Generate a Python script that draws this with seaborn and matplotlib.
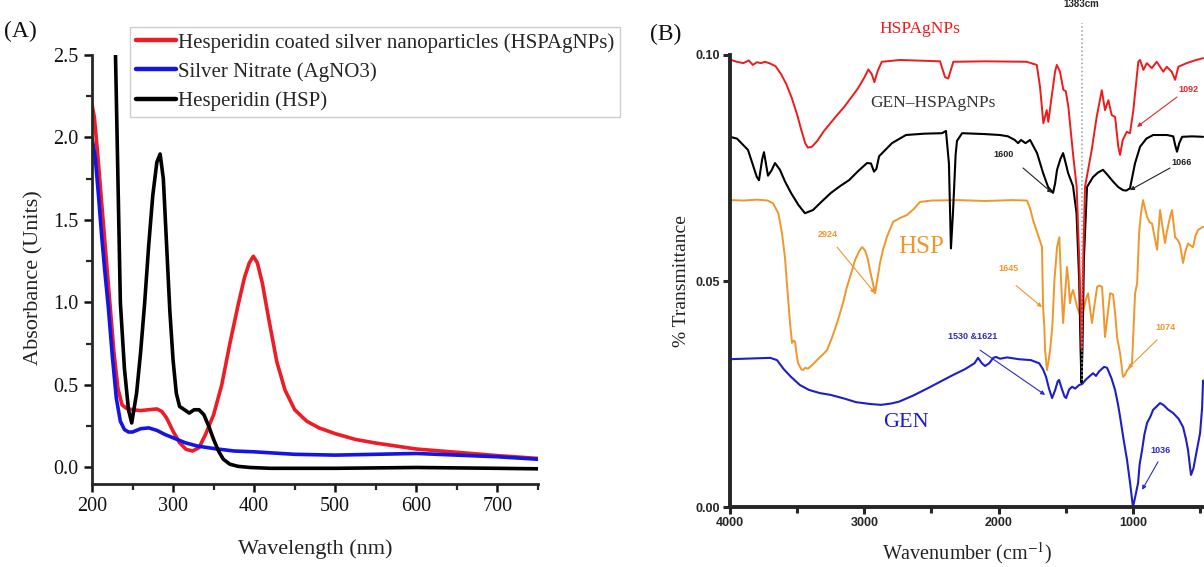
import matplotlib
matplotlib.use("Agg")
import matplotlib.pyplot as plt
from matplotlib.ticker import FixedLocator, FormatStrFormatter
import seaborn as sns
import pandas as pd

# ---------------- (A) UV-Vis absorbance ----------------
uv_labels = [
    "Hesperidin coated silver nanoparticles (HSPAgNPs)",
    "Silver Nitrate (AgNO3)",
    "Hesperidin (HSP)",
]

wl_hspagnp = [200, 203, 207, 212, 217, 222, 227, 232, 237, 242, 250, 260, 270, 280, 286,
              292, 300, 308, 316, 324, 332, 340, 350, 360, 370, 380, 388, 394, 399, 404,
              410, 418, 428, 438, 450, 465, 480, 500, 525, 550, 600, 650, 700, 750]
abs_hspagnp = [2.20, 2.12, 1.90, 1.60, 1.30, 1.00, 0.70, 0.48, 0.38, 0.36, 0.35, 0.345, 0.35, 0.355, 0.34,
               0.30, 0.22, 0.15, 0.11, 0.10, 0.12, 0.20, 0.32, 0.50, 0.75, 0.98, 1.15, 1.24, 1.28, 1.24,
               1.12, 0.90, 0.64, 0.47, 0.35, 0.28, 0.24, 0.205, 0.17, 0.148, 0.112, 0.092, 0.072, 0.055]

wl_agno3 = [200, 204, 208, 212, 216, 220, 225, 230, 235, 240, 245, 250, 260, 270, 280,
            290, 300, 315, 330, 350, 375, 400, 450, 500, 550, 600, 650, 700, 750]
abs_agno3 = [2.00, 1.88, 1.65, 1.40, 1.18, 0.98, 0.68, 0.42, 0.28, 0.23, 0.215, 0.215, 0.235, 0.24, 0.225,
             0.20, 0.18, 0.15, 0.13, 0.115, 0.10, 0.095, 0.08, 0.075, 0.08, 0.085, 0.075, 0.065, 0.05]

wl_hsp = [229, 232, 235, 240, 245, 249, 255, 260, 265, 270, 275, 280, 284, 288, 292,
          296, 300, 304, 308, 314, 320, 326, 332, 338, 344, 350, 356, 362, 370, 380,
          395, 420, 450, 500, 600, 700, 750]
abs_hsp = [2.50, 1.75, 1.00, 0.60, 0.35, 0.27, 0.45, 0.70, 1.00, 1.35, 1.65, 1.85, 1.90, 1.75, 1.35,
           0.95, 0.65, 0.45, 0.37, 0.35, 0.33, 0.35, 0.35, 0.32, 0.25, 0.17, 0.10, 0.05, 0.02, 0.007,
           0.0, -0.005, -0.005, -0.005, 0.0, -0.005, -0.008]

# ---------------- (B) FTIR transmittance ----------------
wn_hspagnp = [4000, 3950, 3900, 3860, 3830, 3800, 3770, 3740, 3700, 3660, 3620, 3580, 3540, 3500,
              3470, 3440, 3420, 3390, 3350, 3300, 3250, 3200, 3150, 3100, 3050, 3000, 2970, 2945,
              2925, 2900, 2870, 2734, 2436, 2399, 2375, 2337, 2100, 1791, 1716, 1692, 1667, 1642,
              1630, 1605, 1580, 1567, 1543, 1518, 1500, 1481, 1444, 1419, 1400, 1383, 1370, 1357,
              1307, 1270, 1232, 1208, 1183, 1158, 1133, 1109, 1096, 1076, 1046, 1022, 997, 960,
              947, 922, 897, 860, 823, 774, 748, 711, 686, 662, 600, 540, 478]
tr_hspagnp = [0.0990, 0.0985, 0.0982, 0.0988, 0.0978, 0.0984, 0.0982, 0.0985, 0.0981, 0.0975, 0.0958,
              0.0935, 0.0905, 0.0868, 0.0835, 0.0805, 0.0795, 0.0797, 0.0810, 0.0832, 0.0850, 0.0868,
              0.0885, 0.0905, 0.0925, 0.0950, 0.0968, 0.0958, 0.0940, 0.0965, 0.0985, 0.0989, 0.0986,
              0.0951, 0.0948, 0.0985, 0.0986, 0.0985, 0.0978, 0.0930, 0.0849, 0.0878, 0.0852, 0.0908,
              0.0963, 0.0978, 0.0963, 0.0923, 0.0920, 0.0886, 0.0775, 0.0708, 0.0550, 0.0350, 0.0550,
              0.0708, 0.0790, 0.0863, 0.0922, 0.0878, 0.0900, 0.0867, 0.0863, 0.0797, 0.0779, 0.0812,
              0.0830, 0.0827, 0.0878, 0.0985, 0.0989, 0.0967, 0.0982, 0.0971, 0.0985, 0.0963, 0.0974,
              0.0963, 0.0945, 0.0974, 0.0982, 0.0988, 0.0993]

wn_gen_hsp = [4000, 3948, 3866, 3800, 3784, 3760, 3747, 3717, 3690, 3665, 3628, 3590, 3546, 3490,
              3442, 3382, 3320, 3248, 3180, 3114, 3050, 2980, 2950, 2928, 2910, 2890, 2794, 2690,
              2550, 2421, 2392, 2370, 2355, 2340, 2320, 2310, 2272, 2100, 1990, 1930, 1880, 1855,
              1833, 1800, 1766, 1714, 1669, 1632, 1595, 1580, 1565, 1540, 1520, 1500, 1483, 1446,
              1420, 1400, 1390, 1383, 1376, 1365, 1342, 1297, 1260, 1223, 1190, 1148, 1110, 1074,
              1050, 1022, 985, 947, 900, 850, 746, 700, 685, 672, 655, 634, 560, 478]
tr_gen_hsp = [0.0819, 0.0815, 0.0790, 0.0730, 0.0723, 0.0770, 0.0785, 0.0733, 0.0745, 0.0761, 0.0746,
              0.0720, 0.0695, 0.0668, 0.0650, 0.0657, 0.0675, 0.0695, 0.0710, 0.0723, 0.0742, 0.0761,
              0.0760, 0.0742, 0.0748, 0.0776, 0.0805, 0.0823, 0.0826, 0.0827, 0.0832, 0.0760, 0.0572,
              0.0650, 0.0780, 0.0810, 0.0827, 0.0825, 0.0823, 0.0820, 0.0812, 0.0805, 0.0812, 0.0805,
              0.0812, 0.0783, 0.0739, 0.0708, 0.0695, 0.0715, 0.0746, 0.0770, 0.0783, 0.0760, 0.0739,
              0.0710, 0.0650, 0.0500, 0.0350, 0.0275, 0.0350, 0.0550, 0.0708, 0.0730, 0.0740, 0.0746,
              0.0735, 0.0720, 0.0708, 0.0701, 0.0700, 0.0705, 0.0760, 0.0797, 0.0815, 0.0823, 0.0823,
              0.0820, 0.0800, 0.0786, 0.0805, 0.0819, 0.0820, 0.0819]

wn_hsp = [4000, 3900, 3800, 3720, 3680, 3640, 3613, 3590, 3576, 3553, 3538, 3527, 3516, 3505,
          3494, 3470, 3456, 3440, 3419, 3385, 3352, 3300, 3278, 3240, 3203, 3160, 3129, 3100,
          3069, 3040, 3017, 2995, 2975, 2958, 2940, 2920, 2900, 2883, 2860, 2831, 2786, 2730,
          2682, 2630, 2585, 2500, 2300, 2100, 1900, 1789, 1765, 1744, 1710, 1677, 1669, 1660,
          1654, 1640, 1630, 1617, 1600, 1585, 1565, 1548, 1535, 1520, 1505, 1491, 1480, 1469,
          1458, 1446, 1430, 1416, 1400, 1383, 1365, 1350, 1334, 1320, 1305, 1285, 1267, 1250,
          1230, 1218, 1208, 1190, 1170, 1148, 1130, 1118, 1096, 1074, 1060, 1044, 1020, 1007,
          995, 984, 969, 954, 940, 925, 910, 895, 875, 858, 840, 820, 808, 798, 780, 761, 750,
          739, 725, 709, 697, 686, 665, 649, 638, 627, 610, 590, 570, 552, 535, 515, 478]
tr_hsp = [0.0679, 0.0678, 0.0680, 0.0678, 0.0672, 0.0650, 0.0606, 0.0550, 0.0494, 0.0407, 0.0363,
          0.0368, 0.0366, 0.0340, 0.0319, 0.0305, 0.0303, 0.0308, 0.0306, 0.0315, 0.0325, 0.0340,
          0.0347, 0.0375, 0.0407, 0.0450, 0.0487, 0.0515, 0.0546, 0.0565, 0.0575, 0.0568, 0.0550,
          0.0524, 0.0500, 0.0473, 0.0510, 0.0540, 0.0570, 0.0598, 0.0631, 0.0640, 0.0646, 0.0660,
          0.0675, 0.0678, 0.0679, 0.0677, 0.0679, 0.0678, 0.0660, 0.0635, 0.0605, 0.0575, 0.0442,
          0.0400, 0.0347, 0.0303, 0.0320, 0.0347, 0.0400, 0.0500, 0.0575, 0.0597, 0.0500, 0.0407,
          0.0470, 0.0531, 0.0500, 0.0451, 0.0470, 0.0480, 0.0460, 0.0443, 0.0430, 0.0420, 0.0440,
          0.0460, 0.0473, 0.0440, 0.0407, 0.0450, 0.0487, 0.0490, 0.0487, 0.0430, 0.0376, 0.0420,
          0.0473, 0.0470, 0.0420, 0.0376, 0.0340, 0.0288, 0.0292, 0.0302, 0.0310, 0.0318, 0.0400,
          0.0473, 0.0495, 0.0606, 0.0650, 0.0679, 0.0660, 0.0642, 0.0630, 0.0627, 0.0600, 0.0569,
          0.0620, 0.0657, 0.0620, 0.0584, 0.0605, 0.0620, 0.0640, 0.0657, 0.0625, 0.0597, 0.0590,
          0.0580, 0.0560, 0.0540, 0.0565, 0.0583, 0.0578, 0.0575, 0.0600, 0.0613, 0.0620]

wn_gen = [4000, 3900, 3800, 3700, 3650, 3600, 3546, 3480, 3412, 3330, 3250, 3150, 3062, 2960,
          2876, 2800, 2742, 2640, 2526, 2430, 2340, 2250, 2180, 2153, 2125, 2101, 2070, 2040,
          2019, 1990, 1937, 1850, 1760, 1698, 1670, 1647, 1625, 1602, 1580, 1560, 1550, 1530,
          1510, 1498, 1475, 1453, 1430, 1400, 1379, 1350, 1320, 1297, 1275, 1252, 1215, 1193,
          1160, 1133, 1110, 1096, 1070, 1044, 1020, 1000, 985, 962, 950, 932, 915, 895, 870,
          850, 825, 798, 770, 740, 701, 660, 627, 605, 590, 568, 550, 538, 515, 500, 485, 478]
tr_gen = [0.0327, 0.0328, 0.0329, 0.0330, 0.0325, 0.0305, 0.0288, 0.0270, 0.0259, 0.0252, 0.0248,
          0.0240, 0.0232, 0.0228, 0.0226, 0.0229, 0.0233, 0.0246, 0.0263, 0.0278, 0.0292, 0.0305,
          0.0318, 0.0330, 0.0318, 0.0312, 0.0318, 0.0330, 0.0332, 0.0328, 0.0331, 0.0327, 0.0325,
          0.0318, 0.0305, 0.0288, 0.0262, 0.0241, 0.0258, 0.0278, 0.0281, 0.0262, 0.0245, 0.0241,
          0.0260, 0.0266, 0.0262, 0.0270, 0.0272, 0.0282, 0.0290, 0.0296, 0.0290, 0.0300, 0.0310,
          0.0308, 0.0285, 0.0259, 0.0225, 0.0200, 0.0150, 0.0104, 0.0050, 0.0000, 0.0020, 0.0053,
          0.0095, 0.0126, 0.0160, 0.0186, 0.0200, 0.0215, 0.0222, 0.0230, 0.0225, 0.0216, 0.0208,
          0.0195, 0.0177, 0.0150, 0.0126, 0.0071, 0.0085, 0.0104, 0.0140, 0.0164, 0.0220, 0.0280]

# peak annotations: (text, text_x, text_y, arrow_from, arrow_to, colour)
ftir_notes = [
    ("2924", 3270, 0.0603, (3203, 0.0575), (2920, 0.0473), "#f0962a"),
    ("1645", 1923, 0.0527, (1870, 0.0490), (1677, 0.0442), "#f0962a"),
    ("1074", 761, 0.0398, (820, 0.0370), (1037, 0.0307), "#f0962a"),
    ("1600", 1967, 0.0779, (1818, 0.0750), (1602, 0.0695), "#222222"),
    ("1066", 634, 0.0763, (724, 0.0750), (1022, 0.0701), "#222222"),
    ("1092", 590, 0.0923, (672, 0.0907), (970, 0.0841), "#e8262a"),
    ("1530 &1621", 2190, 0.0378, (2138, 0.0347), (1654, 0.0248), "#2b2bc8"),
    ("1036", 798, 0.0126, (813, 0.0100), (932, 0.0038), "#2b2bc8"),
]

RED_A, BLUE_A = "#ee1c24", "#1414e6"
RED_B, BLACK_B, ORANGE_B, BLUE_B = "#ee1b1b", "#000000", "#f0962a", "#1e1ec8"

sns.set_style("ticks")
plt.rcParams["font.family"] = ["Liberation Serif", "DejaVu Serif"]
plt.rcParams["mathtext.fontset"] = "stix"

fig = plt.figure(figsize=(12.04, 5.67), dpi=100)
axA = fig.add_axes([0.0764, 0.1464, 0.3704, 0.7566])
axB = fig.add_axes([0.6063, 0.1058, 0.3937, 0.7972])

# ---- panel A ----
uv_sets = [(wl_hspagnp, abs_hspagnp, RED_A), (wl_agno3, abs_agno3, BLUE_A), (wl_hsp, abs_hsp, "black")]
for (x, y, c), lab in zip(uv_sets, uv_labels):
    df = pd.DataFrame({"Wavelength": x, "Absorbance": y})
    sns.lineplot(data=df, x="Wavelength", y="Absorbance", ax=axA, color=c, lw=2.6,
                 estimator=None, sort=False, label=lab)

axA.set_xlim(200, 750)
axA.set_ylim(-0.1, 2.5)
axA.xaxis.set_major_locator(FixedLocator([200, 300, 400, 500, 600, 700]))
axA.xaxis.set_minor_locator(FixedLocator([250, 350, 450, 550, 650, 750]))
axA.yaxis.set_major_locator(FixedLocator([0.0, 0.5, 1.0, 1.5, 2.0, 2.5]))
axA.yaxis.set_minor_locator(FixedLocator([0.25, 0.75, 1.25, 1.75, 2.25]))
axA.yaxis.set_major_formatter(FormatStrFormatter("%.1f"))
for s in ("top", "right"):
    axA.spines[s].set_visible(False)
for s in ("left", "bottom"):
    axA.spines[s].set_linewidth(2.0)
axA.tick_params(which="major", direction="out", length=6, width=1.8, labelsize=14.5, colors="#111111")
axA.tick_params(which="minor", direction="out", length=4, width=1.6)
axA.set_xlabel("Wavelength (nm)", fontsize=16, color="#222222")
axA.set_ylabel("Absorbance (Units)", fontsize=16, color="#222222")
axA.xaxis.set_label_coords(0.5, -0.128)
axA.yaxis.set_label_coords(-0.108, 0.48)

leg = axA.legend(loc="upper left", bbox_to_anchor=(0.108, 0.953), bbox_transform=fig.transFigure,
                 fontsize=15, frameon=True, fancybox=False, handlelength=1.9, handletextpad=0.1,
                 labelspacing=0.45, borderpad=0.3, borderaxespad=0)
leg.get_frame().set_edgecolor("#c4c4c4")
leg.get_frame().set_linewidth(1.0)
for h in leg.get_lines():
    h.set_linewidth(3.2)

# ---- panel B ----
ftir_sets = [(wn_hsp, tr_hsp, ORANGE_B, 1.4), (wn_gen, tr_gen, BLUE_B, 1.5),
             (wn_gen_hsp, tr_gen_hsp, BLACK_B, 1.5), (wn_hspagnp, tr_hspagnp, RED_B, 1.4)]
for x, y, c, w in ftir_sets:
    df = pd.DataFrame({"Wavenumber": x, "Transmittance": y})
    sns.lineplot(data=df, x="Wavenumber", y="Transmittance", ax=axB, color=c, lw=w,
                 estimator=None, sort=False)

axB.set_xlim(4000, 471)
axB.set_ylim(0.0, 0.10)
axB.xaxis.set_major_locator(FixedLocator([4000, 3000, 2000, 1000]))
axB.xaxis.set_minor_locator(FixedLocator([3500, 2500, 1500, 500]))
axB.yaxis.set_major_locator(FixedLocator([0.0, 0.05, 0.10]))
axB.yaxis.set_major_formatter(FormatStrFormatter("%.2f"))
for s in ("top", "right"):
    axB.spines[s].set_visible(False)
for s in ("left", "bottom"):
    axB.spines[s].set_linewidth(2.8)
axB.tick_params(which="major", direction="out", length=5, width=2.2, labelsize=9, pad=2)
axB.tick_params(which="minor", direction="out", length=4, width=2.2)
for t in axB.get_xticklabels() + axB.get_yticklabels():
    t.set_fontfamily(["Liberation Sans", "DejaVu Sans"])
    t.set_fontweight("bold")
axB.set_xlabel("Wavenumber (cm$^{-1}$)", fontsize=14.5, color="#222222")
axB.set_ylabel("% Transmittance", fontsize=14, color="#222222")
axB.xaxis.set_label_coords(0.5, -0.072)
axB.yaxis.set_label_coords(-0.085, 0.5)

# 1383 cm-1 marker
axB.plot([1383, 1383], [0.028, 0.107], ls=":", color="#9a9a9a", lw=1.1, clip_on=False, zorder=5)
axB.text(1383, 0.1112, "1383cm", fontsize=7, fontweight="bold", ha="center", va="center",
         family=["Liberation Sans", "DejaVu Sans"], clip_on=False)

# series names
axB.text(2585, 0.1058, "HSPAgNPs", color=RED_B, fontsize=12.5, ha="center", va="center", clip_on=False)
axB.text(2490, 0.0894, "GEN\u2013HSPAgNPs", color="#333333", fontsize=12.5, ha="center", va="center")
axB.text(2578, 0.0575, "HSP", color=ORANGE_B, fontsize=18, ha="center", va="center")
axB.text(2690, 0.0188, "GEN", color=BLUE_B, fontsize=16, ha="center", va="center")

for txt, tx, ty, a0, a1, c in ftir_notes:
    axB.text(tx, ty, txt, color=c, fontsize=6.5, fontweight="bold", ha="center", va="center",
             family=["Liberation Sans", "DejaVu Sans"])
    axB.annotate("", xy=a1, xytext=a0,
                 arrowprops=dict(arrowstyle="-|>", color=c, lw=0.8, mutation_scale=6,
                                 shrinkA=0, shrinkB=0))

fig.text(0.0166, 0.945, "(A)", fontsize=17, ha="center", va="center", color="#111111")
fig.text(0.5525, 0.940, "(B)", fontsize=17, ha="center", va="center", color="#111111")

fig.savefig("out.png", dpi=100)
